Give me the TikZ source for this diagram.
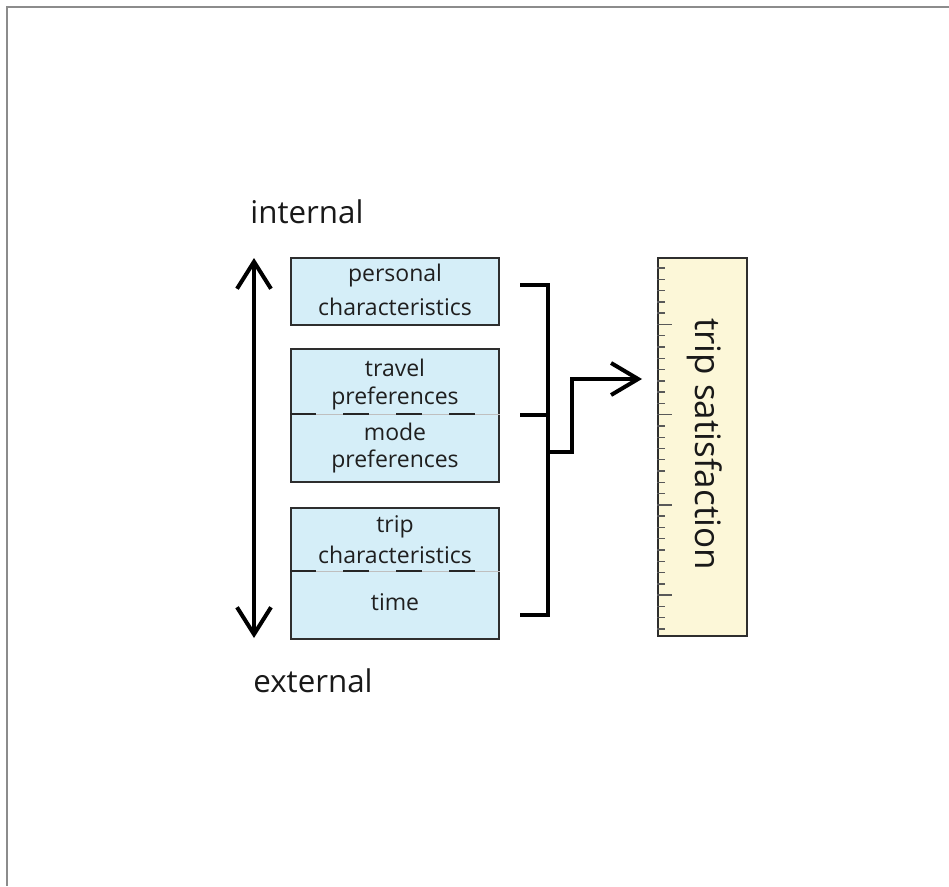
\documentclass[tikz,border=0pt]{standalone}
\usepackage{fontspec}
\setmainfont{Open Sans}
\usetikzlibrary{arrows.meta}
\definecolor{boxblue}{HTML}{D5EEF8}
\definecolor{boxyellow}{HTML}{FCF7D8}
\definecolor{edgegray}{HTML}{2E2E2E}
\definecolor{framegray}{HTML}{8C8C8C}
\tikzset{
  bluebox/.style={draw=edgegray, line width=2pt, fill=boxblue, rectangle, inner sep=0pt},
  yellowbox/.style={draw=edgegray, line width=2pt, fill=boxyellow, rectangle, inner sep=0pt},
  boxtext/.style={anchor=base, font=\fontsize{23}{28}\selectfont, text=black!88, inner sep=0pt},
  axislabel/.style={anchor=base, font=\fontsize{31.3}{36}\selectfont, text=black!90, inner sep=0pt},
  thickline/.style={line width=4pt, black},
  divfaint/.style={line width=0.8pt, draw=black!25},
  divdash/.style={line width=2pt, draw=black!85, dash pattern=on 26pt off 27pt},
  tick/.style={line width=1.4pt, draw=black!65},
  barb/.style={-{Straight Barb[length=27pt,width=32pt]}},
}
\begin{document}
\begin{tikzpicture}[x=1pt,y=-1pt]
\useasboundingbox (0,0) rectangle (949,886);
\fill[white] (0,0) rectangle (949,886);
% frame
\draw[framegray, line width=2pt] (949,6.5) -- (6.5,6.5) -- (6.5,886);

% boxes
\node[bluebox, minimum width=208pt, minimum height=67pt] (b1) at (395,291.5) {};
\node[bluebox, minimum width=208pt, minimum height=133pt] (b2) at (395,415.5) {};
\node[bluebox, minimum width=208pt, minimum height=131pt] (b3) at (395,573.5) {};

% dividers
\draw[divfaint] (b2.west |- 0,414) -- (b2.east |- 0,414);
\draw[divdash] (b2.west |- 0,414) -- (b2.east |- 0,414);
\draw[divfaint] (b3.west |- 0,571) -- (b3.east |- 0,571);
\draw[divdash] (b3.west |- 0,571) -- (b3.east |- 0,571);

% box texts
\node[boxtext] (t1a) at (395,281) {personal};
\node[boxtext] (t1b) at (395,315) {characteristics};
\node[boxtext] (t2a) at (395,376.5) {travel};
\node[boxtext] (t2b) at (395,404) {preferences};
\node[boxtext] (t2c) at (395,440) {mode};
\node[boxtext] (t2d) at (395,467) {preferences};
\node[boxtext] (t3a) at (395,532) {trip};
\node[boxtext] (t3b) at (395,563) {characteristics};
\node[boxtext] (t3c) at (395,610) {time};

% internal / external
\node[axislabel] (int) at (307,223) {internal};
\node[axislabel] (ext) at (313,692) {external};
\coordinate (atop) at (254,258);
\coordinate (abot) at (254,638);
\draw[thickline, {Straight Barb[length=27pt,width=34pt]}-{Straight Barb[length=27pt,width=34pt]}] (atop) -- (abot);

% satisfaction box
\node[yellowbox, minimum width=89pt, minimum height=378pt] (sat) at (702.5,447) {};
\foreach \i in {0,...,32}{
  \pgfmathsetmacro{\yy}{268+11.28*\i}
  \pgfmathsetmacro{\len}{(mod(\i+3,8)==0) ? 15 : 8}
  \draw[tick] (sat.west |- 0,\yy) -- ++(\len,0);
}
\node[rotate=-90, font=\fontsize{35}{40}\selectfont, text=black!90, inner sep=0pt] (satt) at (705,444) {trip satisfaction};

% bracket
\coordinate (k1) at (520,285);
\coordinate (k1r) at (548,285);
\coordinate (k2) at (520,415);
\coordinate (k2r) at (548,415);
\coordinate (k3) at (520,615);
\coordinate (k3r) at (548,615);
\draw[thickline] (k1) -- (k1r) -- (k3r) -- (k3);
\draw[thickline] (k2) -- (k2r);
\coordinate (j0) at (548,452);
\coordinate (j1) at (572,452);
\coordinate (j2) at (572,379);
\coordinate (jtip) at (642,379);
\draw[thickline, barb] (j0) -- (j1) -- (j2) -- (jtip);
\end{tikzpicture}
\end{document}
